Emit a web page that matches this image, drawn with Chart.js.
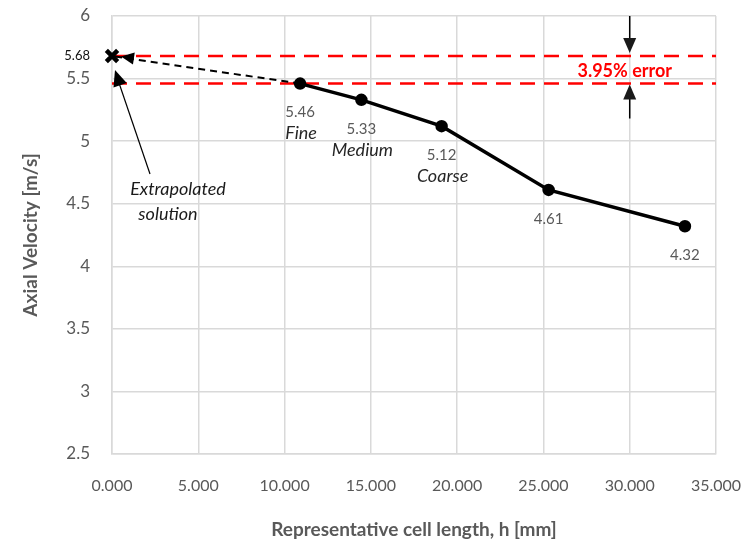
<!DOCTYPE html>
<html>
<head>
<meta charset="utf-8">
<script src="https://cdn.jsdelivr.net/npm/chart.js@4.4.1/dist/chart.umd.min.js"></script>
<style>
  html, body { margin: 0; background: #fff; }
  #wrap { width: 752px; height: 548px; }
</style>
</head>
<body>
<div id="wrap"><canvas id="velocityChart"></canvas></div>
<script>
// mesh study data
const cellLength = [10.9, 14.45, 19.1, 25.3, 33.2];
const axialVelocity = [5.46, 5.33, 5.12, 4.61, 4.32];
const meshNames = ["Fine", "Medium", "Coarse", "", ""];
const extrapLength = [0];
const extrapVelocity = [5.68];
const errorAtLength = [30];
const errorText = "3.95% error";
const extrapText = ["Extrapolated", "solution"];

const FONT = "Lato, 'Open Sans', sans-serif";
const GREY = "#595959";

const mainPoints = cellLength.map((h, i) => ({ x: h, y: axialVelocity[i] }));
const extrapPoint = { x: extrapLength[0], y: extrapVelocity[0] };

function arrowHead(ctx, tipX, tipY, fromX, fromY, len, half) {
  const a = Math.atan2(tipY - fromY, tipX - fromX);
  ctx.beginPath();
  ctx.moveTo(tipX, tipY);
  ctx.lineTo(tipX - len * Math.cos(a) + half * Math.sin(a), tipY - len * Math.sin(a) - half * Math.cos(a));
  ctx.lineTo(tipX - len * Math.cos(a) - half * Math.sin(a), tipY - len * Math.sin(a) + half * Math.cos(a));
  ctx.closePath();
  ctx.fill();
}

const annotations = {
  id: "annotations",
  afterDatasetsDraw(chart) {
    const ctx = chart.ctx;
    const xs = chart.scales.x;
    const ys = chart.scales.y;
    const area = chart.chartArea;
    ctx.save();

    // value + mesh labels under each point
    ctx.textAlign = "center";
    ctx.textBaseline = "middle";
    cellLength.forEach((h, i) => {
      const px = xs.getPixelForValue(h);
      const py = ys.getPixelForValue(axialVelocity[i]);
      ctx.fillStyle = GREY;
      ctx.font = "15px " + FONT;
      ctx.fillText(axialVelocity[i].toFixed(2), px, py + 29);
      if (meshNames[i]) {
        ctx.fillStyle = "#262626";
        ctx.font = "italic 18px " + FONT;
        ctx.fillText(meshNames[i], px + 1, py + 50);
      }
    });

    // extrapolated value beside the axis
    const ex = xs.getPixelForValue(extrapPoint.x);
    const ey = ys.getPixelForValue(extrapPoint.y);
    ctx.textAlign = "right";
    ctx.fillStyle = "#111";
    ctx.font = "13px " + FONT;
    ctx.fillText(extrapVelocity[0].toFixed(2), area.left - 22, ey);

    // arrow head of the dashed extrapolation line
    const fx = xs.getPixelForValue(cellLength[0]);
    const fy = ys.getPixelForValue(axialVelocity[0]);
    ctx.fillStyle = "#000";
    arrowHead(ctx, ex + 9, ey + 0.5, fx, fy, 13, 6);

    // pointer to the extrapolated solution
    ctx.strokeStyle = "#000";
    ctx.lineWidth = 1.2;
    ctx.beginPath();
    ctx.moveTo(ex + 38, ey + 118);
    ctx.lineTo(ex + 6, ey + 24);
    ctx.stroke();
    arrowHead(ctx, ex + 3, ey + 14, ex + 38, ey + 118, 16, 7);
    ctx.textAlign = "center";
    ctx.fillStyle = "#1a1a1a";
    ctx.font = "italic 18px " + FONT;
    ctx.fillText(extrapText[0], ex + 66, ey + 133);
    ctx.fillText(extrapText[1], ex + 56, ey + 158);

    // error arrows
    const ax = xs.getPixelForValue(errorAtLength[0]);
    const y1 = ys.getPixelForValue(extrapVelocity[0]);
    const y2 = ys.getPixelForValue(axialVelocity[0]);
    ctx.lineWidth = 1.5;
    ctx.beginPath();
    ctx.moveTo(ax, area.top);
    ctx.lineTo(ax, y1 - 12);
    ctx.moveTo(ax, y2 + 12);
    ctx.lineTo(ax, y2 + 35);
    ctx.stroke();
    arrowHead(ctx, ax, y1 - 3, ax, area.top, 15, 6.5);
    arrowHead(ctx, ax, y2 + 1, ax, y2 + 35, 15, 6.5);

    ctx.fillStyle = "#ff0000";
    ctx.font = "bold 18px " + FONT;
    ctx.fillText(errorText, ax - 5, (y1 + y2) / 2 + 1);

    ctx.restore();
  }
};

new Chart(document.getElementById("velocityChart"), {
  type: "scatter",
  data: {
    datasets: [
      {
        data: mainPoints,
        showLine: true,
        borderColor: "#000",
        backgroundColor: "#000",
        borderWidth: 3.5,
        pointRadius: 4.5,
        order: 0
      },
      {
        data: [extrapPoint],
        pointStyle: "crossRot",
        pointRadius: 8,
        borderWidth: 4.5,
        borderColor: "#000",
        clip: false,
        order: 0
      },
      {
        data: [mainPoints[0], extrapPoint],
        showLine: true,
        borderColor: "#000",
        borderWidth: 2,
        borderDash: [7, 5],
        pointRadius: 0,
        order: 1
      },
      {
        data: [{ x: 0, y: extrapVelocity[0] }, { x: 35, y: extrapVelocity[0] }],
        showLine: true,
        borderColor: "#ff0000",
        borderWidth: 2.5,
        borderDash: [15, 9],
        pointRadius: 0,
        order: 2
      },
      {
        data: [{ x: 0, y: axialVelocity[0] }, { x: 35, y: axialVelocity[0] }],
        showLine: true,
        borderColor: "#ff0000",
        borderWidth: 2.5,
        borderDash: [15, 9],
        pointRadius: 0,
        order: 2
      }
    ]
  },
  options: {
    responsive: true,
    maintainAspectRatio: false,
    animation: false,
    layout: { padding: { top: 16, right: 36, left: 0, bottom: 0 } },
    plugins: { legend: { display: false }, tooltip: { enabled: false } },
    scales: {
      x: {
        type: "linear",
        min: 0,
        max: 35,
        afterFit: s => {
          s.height = 94;
          s.paddingLeft = 0;
          s.paddingRight = 0;
        },
        grid: { color: "#d9d9d9", lineWidth: 1.5, drawTicks: false },
        border: { color: "#d9d9d9", width: 1.5 },
        ticks: {
          stepSize: 5,
          padding: 22,
          color: GREY,
          font: { family: FONT, size: 16 },
          callback: v => v.toFixed(3)
        },
        title: {
          display: true,
          text: "Representative cell length, h [mm]",
          color: GREY,
          font: { family: FONT, size: 19, weight: "bold" },
          padding: { top: 0, bottom: 7 }
        }
      },
      y: {
        type: "linear",
        min: 2.5,
        max: 6,
        afterFit: s => {
          s.width = 112;
          s.paddingTop = 0;
          s.paddingBottom = 0;
        },
        grid: { color: "#d9d9d9", lineWidth: 1.5, drawTicks: false },
        border: { color: "#d9d9d9", width: 1.5 },
        ticks: {
          stepSize: 0.5,
          padding: 22,
          color: GREY,
          font: { family: FONT, size: 17 },
          callback: v => String(+v.toFixed(1))
        },
        title: {
          display: true,
          text: "Axial Velocity [m/s]",
          color: GREY,
          font: { family: FONT, size: 19, weight: "bold" },
          padding: { top: 19, bottom: 0 }
        }
      }
    }
  },
  plugins: [annotations]
});
</script>
</body>
</html>
